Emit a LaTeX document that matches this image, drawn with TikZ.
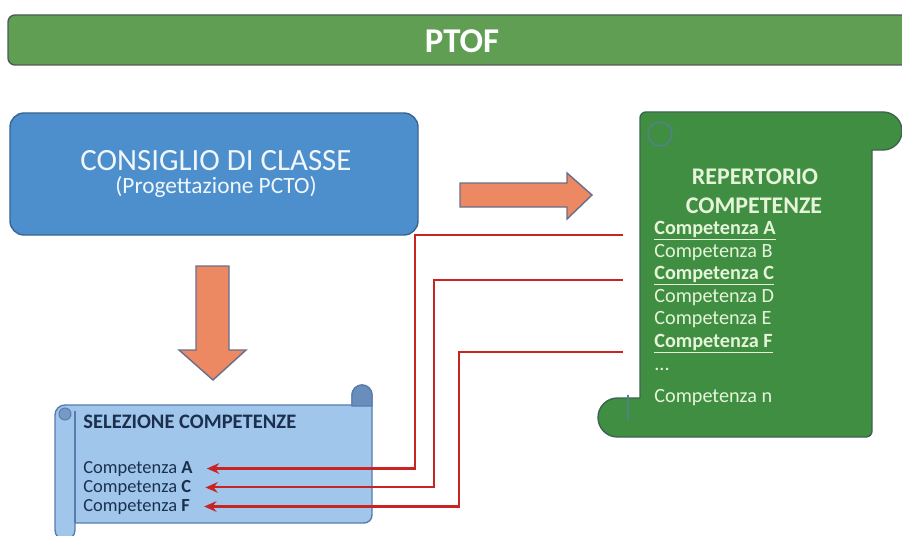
\documentclass[tikz,border=0pt]{standalone}
\usepackage{fontspec}
\setmainfont{Carlito}
\usetikzlibrary{arrows.meta}
\definecolor{ptofgreen}{RGB}{96,158,84}
\definecolor{ptofedge}{RGB}{78,92,84}
\definecolor{boxblue}{RGB}{76,143,204}
\definecolor{boxedge}{RGB}{58,100,146}
\definecolor{scrollgreen}{RGB}{64,142,66}
\definecolor{scrolledge}{RGB}{60,100,80}
\definecolor{scrollblue}{RGB}{160,198,236}
\definecolor{scrollblueedge}{RGB}{88,124,172}
\definecolor{arroworange}{RGB}{236,136,98}
\definecolor{arrowedge}{RGB}{104,110,140}
\definecolor{linkred}{RGB}{200,36,34}
\definecolor{greentext}{RGB}{230,245,218}
\definecolor{navytext}{RGB}{28,48,78}

\begin{document}
\begin{tikzpicture}[ x=0.02cm,y=0.02cm,
    link/.style={ draw=linkred,line width=1.2pt,-{Stealth[length=7pt,width=6pt]},shorten >=8pt },
    greenitem/.style={ anchor=base west,inner sep=0pt,text=greentext,font=\fontsize{11.5}{13}\selectfont },
    blueitem/.style={ anchor=base west,inner sep=0pt,text=navytext,font=\fontsize{10.5}{12}\selectfont } ]
    \useasboundingbox (0,0) rectangle (902,535);
    \clip (0,0) rectangle (902,535);

    % banner
    \draw [ fill=ptofgreen,draw=ptofedge,line width=0.8pt,rounded corners=4pt ] (8,470) rectangle (915,520);
    \node [ text=white,font=\fontsize{19.8}{22}\selectfont\bfseries ] (ptof) at (462,494) {PTOF};

    % consiglio di classe
    \draw [ fill=boxblue,draw=boxedge,line width=0.8pt,rounded corners=8pt ] (10,300) rectangle (418,422);
    \node [ text=white!92!boxblue,font=\fontsize{17.6}{20}\selectfont ] (cdc) at (216,374) {CONSIGLIO DI CLASSE};
    \node [ text=white!92!boxblue,font=\fontsize{13.3}{15}\selectfont ] (pcto) at (216,348) {(Progettazione PCTO)};

    % block arrows
    \draw [ fill=arroworange,draw=arrowedge,line width=0.8pt ] (460,352) -- (567,352) -- (567,362) -- (592,340) -- (567,316) -- (567,328) -- (460,328) -- cycle;
    \draw [ fill=arroworange,draw=arrowedge,line width=0.8pt ] (196,269) -- (229,269) -- (229,185) -- (246,185) -- (213,155) -- (179,185) -- (196,185) -- cycle;

    % repertorio scroll
    \draw [ fill=scrollgreen,draw=scrolledge,line width=0.8pt ] (646,423) -- (883,423) arc[start angle=90,end angle=-90,radius=19]
        -- (872,385) -- (872,104) arc[start angle=0,end angle=-90,radius=6] -- (617.5,98)
        arc[start angle=270,end angle=90,radius=19.5] -- (640,137) -- (640,417) arc[start angle=180,end angle=90,radius=6] -- cycle;
    \draw [ scrollblueedge!70!scrollgreen,line width=0.8pt ] (660,401) circle[radius=12];
    \draw [ scrollblueedge!60!scrollgreen,line width=0.8pt ] (628,140) -- (628,114);
    \node [ text=greentext,font=\fontsize{13.6}{15}\selectfont\bfseries ] (rep1) at (755,358) {REPERTORIO};
    \node [ text=greentext,font=\fontsize{13.6}{15}\selectfont\bfseries ] (rep2) at (754,329) {COMPETENZE};
    \node [ greenitem ] (repA) at (654,301) {\underline{\textbf{Competenza A}}};
    \node [ greenitem ] (repB) at (654,278) {Competenza B};
    \node [ greenitem ] (repC) at (654,256) {\underline{\textbf{Competenza C}}};
    \node [ greenitem ] (repD) at (654,233) {Competenza D};
    \node [ greenitem ] (repE) at (654,211) {Competenza E};
    \node [ greenitem ] (repF) at (654,188) {\underline{\textbf{Competenza F}}};
    \node [ greenitem ] (repdots) at (654,165) {...};
    \node [ greenitem ] (repN) at (654,133) {Competenza n};

    % selezione scroll
    \draw [ fill=scrollblue,draw=scrollblueedge,line width=0.8pt ] (55,120) arc[start angle=180,end angle=90,radius=10]
        -- (352,130) -- (352,140) arc[start angle=180,end angle=0,radius=10] -- (372,20)
        arc[start angle=0,end angle=-90,radius=8] -- (75,12) -- (75,5) arc[start angle=0,end angle=-180,radius=10] -- cycle;
    \draw [ fill=scrollblueedge!75!scrollblue,draw=scrollblueedge,line width=0.8pt ] (352,129) -- (352,140) arc[start angle=180,end angle=0,radius=10] -- (372,129) -- cycle;
    \draw [ scrollblueedge,line width=0.8pt ] (75,124) -- (75,12);
    \draw [ fill=scrollblueedge!60!scrollblue,draw=scrollblueedge,line width=0.6pt ] (65,121) circle[radius=6];
    \node [ anchor=base west,inner sep=0pt,text=navytext,font=\fontsize{11.7}{13}\selectfont\bfseries ] (sel) at (83,107) {SELEZIONE COMPETENZE};
    \node [ blueitem ] (selA) at (83,62) {Competenza \textbf{A}};
    \node [ blueitem ] (selC) at (83,43) {Competenza \textbf{C}};
    \node [ blueitem ] (selF) at (83,24) {Competenza \textbf{F}};

    % links
    \coordinate (cA) at (623,300);
    \coordinate (cC) at (623,255);
    \coordinate (cF) at (623,183);
    \coordinate (vA) at (415,0);
    \coordinate (vC) at (434,0);
    \coordinate (vF) at (459,0);
    \draw [ link ] (cA) -| (vA |- selA.east) -- (selA.east);
    \draw [ link ] (cC) -| (vC |- selC.east) -- (selC.east);
    \draw [ link ] (cF) -| (vF |- selF.east) -- (selF.east);
\end{tikzpicture}
\end{document}
